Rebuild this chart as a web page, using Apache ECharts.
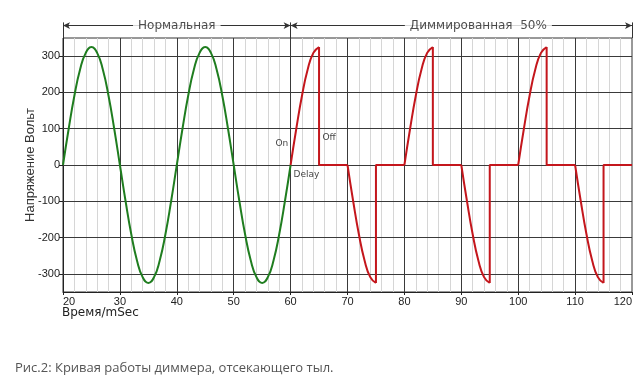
<!DOCTYPE html>
<html><head><meta charset="utf-8">
<script src="https://cdn.jsdelivr.net/npm/echarts@6/dist/echarts.min.js"></script>
<style>html,body{margin:0;padding:0;background:#fff}#c{width:643px;height:385px}</style>
</head><body><div id="c"></div>
<script>
// ---- data ----
const normalTime = [20,21,22,23,24,25,26,27,28,29,30,31,32,33,34,35,36,37,38,39,40,41,42,43,44,45,46,47,48,49,50,51,52,53,54,55,56,57,58,59,60];
const normalVolt = [0,100,191,263,309,325,309,263,191,100,0,-100,-191,-263,-309,-325,-309,-263,-191,-100,0,100,191,263,309,325,309,263,191,100,0,-100,-191,-263,-309,-325,-309,-263,-191,-100,0];
const dimCurveTime = [60,61,62,63,64,65,null,70,71,72,73,74,75,null,80,81,82,83,84,85,null,90,91,92,93,94,95,null,100,101,102,103,104,105,null,110,111,112,113,114,115];
const dimCurveVolt = [0,100,191,263,309,325,null,0,-100,-191,-263,-309,-325,null,0,100,191,263,309,325,null,0,-100,-191,-263,-309,-325,null,0,100,191,263,309,325,null,0,-100,-191,-263,-309,-325];
const dimStepTime = [65,65,70,null,75,75,80,null,85,85,90,null,95,95,100,null,105,105,110,null,115,115,120];
const dimStepVolt = [325,0,0,null,-325,0,0,null,325,0,0,null,-325,0,0,null,325,0,0,null,-325,0,0];
const yTickValues = [-300,-200,-100,0,100,200,300];
const annoText = ['On','Off','Delay'];
const annoTime = [59.6, 65.6, 60.5];
const annoVolt = [58, 76, -26];
// header band (own small grid above the plot; y runs 0..1 inside it)
const headerText = ['Нормальная', 'Диммированная  50%'];
const headerTime = [40, 93];
const headerLevel = 0.62;
const headerBarTop = 0.78;
const headerSpans = [[20,60],[60,120]];
const headerBars = [20,60,120];

const pairs = (xs, ys) => xs.map((x,i) => (x === null ? [null,null] : [x, ys[i]]));

const chart = echarts.init(document.getElementById('c'), null, {renderer:'canvas'});
const DARK = '#3a3a3a', LIGHT = '#d6d6d6';
chart.setOption({
  animation: false,
  backgroundColor: '#fff',
  title: [
    {text: 'Время/mSec', left: 62, top: 307, padding: 0, textStyle: {fontFamily: 'DejaVu Sans', fontSize: 12, fontWeight: 'normal', color: '#222'}},
    {text: 'Рис.2: Кривая работы диммера, отсекающего тыл.', left: 15, top: 362, padding: 0, textStyle: {fontFamily: 'Open Sans', fontSize: 13, fontWeight: 'normal', color: '#555'}}
  ],
  grid: [
    {left: 63, right: 11, top: 38, bottom: 93, show: true, borderColor: '#333', borderWidth: 1, backgroundColor: '#fff'},
    {left: 63, right: 11, top: 18, height: 20, show: false}
  ],
  xAxis: [{
    type: 'value', min: 20, max: 120, interval: 10,
    axisLine: {show: true, onZero: false, lineStyle: {color: '#222'}},
    axisTick: {show: true, length: 3, lineStyle: {color: '#222'}},
    axisLabel: {margin: 4, color: '#222', fontFamily: 'Liberation Sans', fontSize: 11, alignMinLabel: 'left', alignMaxLabel: 'right'},
    splitLine: {show: true, showMinLine: false, showMaxLine: false, lineStyle: {color: DARK, width: 1}},
    minorTick: {show: false, splitNumber: 5},
    minorSplitLine: {show: true, lineStyle: {color: LIGHT, width: 1}}
  }, {
    type: 'value', gridIndex: 1, min: 20, max: 120, show: false
  }],
  yAxis: [{
    type: 'value', min: -350, max: 350, interval: 50,
    name: 'Напряжение Вольт', nameLocation: 'middle', nameRotate: 90, nameGap: 26, nameMoveOverlap: false,
    nameTextStyle: {fontFamily: 'Liberation Sans', fontSize: 13, color: '#333'},
    axisLine: {show: true, onZero: false, lineStyle: {color: '#222'}},
    axisTick: {show: true, length: 4, customValues: yTickValues, lineStyle: {color: '#222'}},
    axisLabel: {margin: 3, color: '#222', fontFamily: 'Liberation Sans', fontSize: 11, customValues: yTickValues},
    splitLine: {show: true, showMinLine: false, showMaxLine: false, lineStyle: {color: LIGHT, width: 1}}
  }, {
    type: 'value', gridIndex: 1, min: 0, max: 1, show: false
  }],
  series: [
    {type: 'scatter', name: 'majorY', data: [[20, 0]], symbolSize: 0, silent: true, z: 1,
     markLine: {silent: true, animation: false, symbol: ['none','none'], label: {show: false},
       lineStyle: {color: DARK, width: 1, type: 'solid'},
       data: yTickValues.map(v => ({yAxis: v}))}},
    {type: 'line', name: 'normal', data: pairs(normalTime, normalVolt), smooth: true, symbol: 'none',
     lineStyle: {color: '#1f7d1f', width: 2}, z: 5},
    {type: 'line', name: 'dimCurve', data: pairs(dimCurveTime, dimCurveVolt), smooth: true, symbol: 'none', connectNulls: false,
     lineStyle: {color: '#c4161c', width: 2}, z: 6},
    {type: 'line', name: 'dimStep', data: pairs(dimStepTime, dimStepVolt), smooth: false, symbol: 'none', connectNulls: false,
     lineStyle: {color: '#c4161c', width: 2}, z: 6},
    {type: 'scatter', name: 'header', xAxisIndex: 1, yAxisIndex: 1, clip: false, silent: true, symbolSize: 0, z: 4,
     data: headerText.map((t,i) => ({value: [headerTime[i], headerLevel], name: t})),
     label: {show: true, position: 'inside', formatter: p => p.name, backgroundColor: '#fff', padding: [1,5],
             fontFamily: 'DejaVu Sans', fontSize: 12, color: '#222'},
     markLine: {
       silent: true, animation: false, z: 1,
       label: {show: false},
       lineStyle: {color: '#333', width: 1, type: 'solid'},
       symbol: ['none','none'],
       data: headerSpans.map(s => [
         {coord: [s[0], headerLevel], symbol: 'arrow', symbolSize: [5,7]},
         {coord: [s[1], headerLevel], symbol: 'arrow', symbolSize: [5,7]}
       ]).concat(headerBars.map(b => [
         {coord: [b, headerBarTop], symbol: 'none'},
         {coord: [b, 0], symbol: 'none'}
       ]))
     }},
    {type: 'scatter', name: 'anno', clip: false, silent: true, symbolSize: 0, z: 7,
     data: annoText.map((t,i) => ({value: [annoTime[i], annoVolt[i]], name: t,
       label: {position: i === 0 ? 'left' : 'right', distance: 0}})),
     label: {show: true, formatter: p => p.name, fontFamily: 'DejaVu Sans', fontSize: 9, color: '#111'}}
  ]
});
</script></body></html>
